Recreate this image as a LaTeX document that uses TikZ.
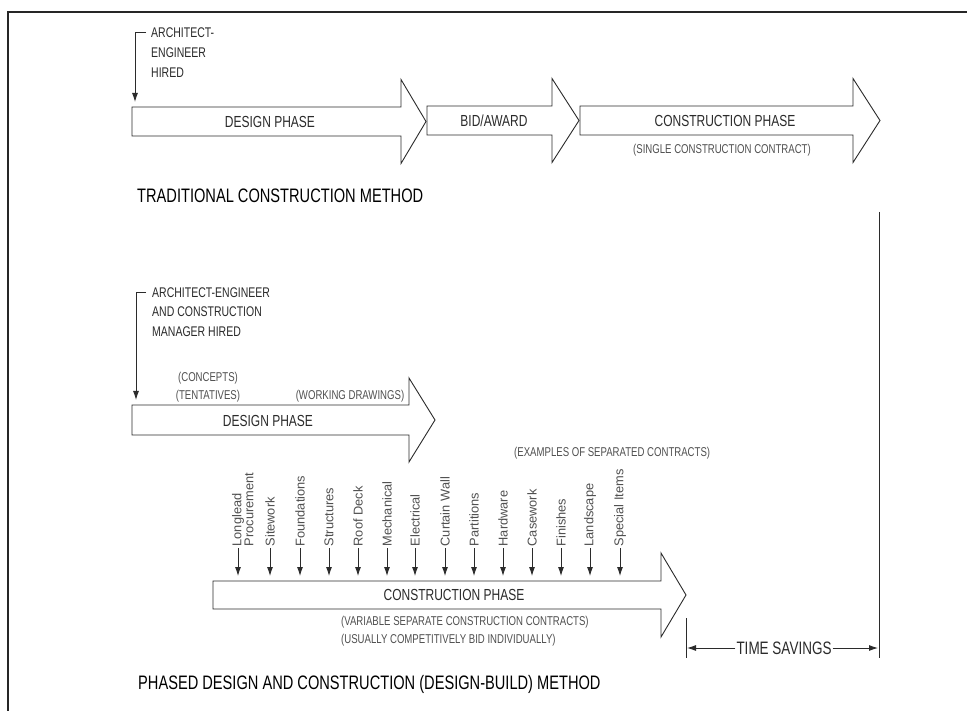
\documentclass[tikz,border=0pt]{standalone}
\usepackage{fontspec}
\setmainfont{Liberation Sans}
\newfontfamily\cond[FakeStretch=0.75]{Liberation Sans}
\usetikzlibrary{arrows.meta}
\definecolor{ink}{HTML}{2B2B2B}
\definecolor{soft}{HTML}{505050}
\newcommand\phasearrow[6]{% x0, head start, tip, ymid, half body, half head
  \draw[outline] (#1,#4-#5) -- (#2,#4-#5) -- (#2,#4-#6) -- (#3,#4) -- (#2,#4+#6) -- (#2,#4+#5) -- (#1,#4+#5) -- cycle;}
\begin{document}
\begin{tikzpicture}[x=1pt,y=-1pt,
  outline/.style={draw=ink, line width=0.9pt, line join=miter},
  lbl/.style={font=\cond\fontsize{16}{19}\selectfont, text=ink, inner sep=1pt},
  small/.style={font=\cond\fontsize{12.8}{18}\selectfont, text=soft, inner sep=1pt},
  hire/.style={font=\cond\fontsize{14}{20}\selectfont, text=ink, align=left, inner sep=1pt, anchor=west},
  titletext/.style={font=\cond\fontsize{19.5}{22}\selectfont, text=black, anchor=west, inner sep=0pt},
  contract/.style={font=\fontsize{12.8}{14}\selectfont, text=soft, rotate=90, anchor=west, inner sep=1.5pt},
  arr/.style={draw=ink, line width=0.9pt, -{Latex[length=9pt,width=6pt]}},
  rulel/.style={draw=ink, line width=0.8pt},
  frame/.style={draw=black!85, line width=2.2pt}]
\useasboundingbox (0,0) rectangle (967,711);
\fill[white] (0,0) rectangle (967,711);
% frame
\draw[frame] (8,711) -- (8,12) -- (967,12);

% ---------------- traditional method ----------------
\phasearrow{132}{401}{426}{121.5}{14.5}{42}
\phasearrow{427}{552}{579}{120.5}{14.5}{42}
\phasearrow{580}{853}{880}{120.5}{14.5}{42}
\node[lbl] (dp1) at (270,122) {DESIGN PHASE};
\node[lbl] (bid) at (494,121) {BID/AWARD};
\node[lbl] (cp1) at (725,121) {CONSTRUCTION PHASE};
\node[small] (scc) at (722,150) {(SINGLE CONSTRUCTION CONTRACT)};
\node[hire] (aeh) at (150,53) {ARCHITECT-\\ENGINEER\\HIRED};
\coordinate (aes) at (146,32);
\coordinate (aet) at (135,102);
\draw[arr] (aes) -| (aet);
\node[titletext] (trad) at (137,196) {TRADITIONAL CONSTRUCTION METHOD};

% ---------------- phased method ----------------
\node[hire, font=\cond\fontsize{14}{19.5}\selectfont] (acm) at (151,312) {ARCHITECT-ENGINEER\\AND CONSTRUCTION\\MANAGER HIRED};
\coordinate (acs) at (146,292);
\coordinate (act) at (136,400);
\draw[arr] (acs) -| (act);

\phasearrow{132}{409}{435}{420}{15}{42}
\node[small] (conc) at (208,378) {(CONCEPTS)};
\node[small] (tent) at (208,396) {(TENTATIVES)};
\node[small] (work) at (350,396) {(WORKING DRAWINGS)};
\node[lbl] (dp2) at (268,421) {DESIGN PHASE};

\node[small, anchor=west] (ex) at (513,453) {(EXAMPLES OF SEPARATED CONTRACTS)};

\phasearrow{213}{661}{686}{595}{14}{42}
\node[lbl] (cp2) at (454,595) {CONSTRUCTION PHASE};
\node[small, anchor=west] (var) at (340,622) {(VARIABLE SEPARATE CONSTRUCTION CONTRACTS)};
\node[small, anchor=west] (usu) at (340,640) {(USUALLY COMPETITIVELY BID INDIVIDUALLY)};

% contracts
\coordinate (cstop) at (0,576);
\node[contract] (proc) at (249,548) {Procurement};
\foreach \i/\x/\t in {1/238/Longlead, 2/270/Sitework, 3/300/Foundations, 4/329/Structures,
  5/358/Roof Deck, 6/387/Mechanical, 7/415/Electrical, 8/445/Curtain Wall, 9/474/Partitions,
  10/503/Hardware, 11/532/Casework, 12/561/Finishes, 13/590/Landscape, 14/620/Special Items}{
  \node[contract] (c\i) at (\x,548) {\t};
  \draw[arr] (c\i.west) -- (c\i.west |- cstop);
}

% time savings
\coordinate (rtop) at (879,212);
\coordinate (rbot) at (879,658);
\coordinate (ltop) at (686,618);
\coordinate (lbot) at (686,658);
\draw[rulel] (rtop) -- (rbot);
\draw[rulel] (ltop) -- (lbot);
\node[lbl, font=\cond\fontsize{18}{20}\selectfont] (ts) at (784,648) {TIME SAVINGS};
\coordinate (tsl) at (687,648);
\coordinate (tsr) at (878,648);
\draw[arr] (ts.west) -- (tsl);
\draw[arr] (ts.east) -- (tsr);

\node[titletext] (phased) at (138,684) {PHASED DESIGN AND CONSTRUCTION (DESIGN-BUILD) METHOD};
\end{tikzpicture}
\end{document}
